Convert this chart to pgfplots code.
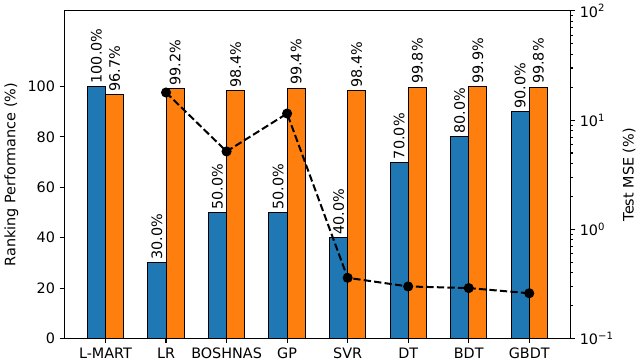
\documentclass[border=0pt]{standalone}
\usepackage{fontspec}
\setmainfont{DejaVu Sans}
\usepackage{pgfplots}
\pgfplotsset{compat=1.18}
\definecolor{mplblue}{HTML}{1F77B4}
\definecolor{mplorange}{HTML}{FF7F0E}

\pgfplotsset{
  common/.style={
    scale only axis, width=380pt, height=246pt,
    xmin=-0.68, xmax=7.68,
    enlargelimits=false,
    tick align=outside,
    major tick length=3.5pt, minor tick length=2pt,
    every tick/.style={black, line width=0.8pt},
    axis line style={line width=0.8pt},
    tick label style={font=\fontsize{10.8}{13}\selectfont},
    label style={font=\fontsize{10.8}{13}\selectfont},
    /pgf/number format/assume math mode=true,
  },
  barlab/.style={
    nodes near coords={\pgfmathprintnumber[fixed,fixed zerofill,precision=1]{\pgfplotspointmeta}\%},
    every node near coord/.append style={rotate=90, anchor=west, inner sep=2pt,
      font=\fontsize{10.8}{13}\selectfont, black},
  },
}

\begin{document}
\begin{tikzpicture}
  % bars: ranking performance (left axis)
  \begin{axis}[
      common,
      ymin=0, ymax=130,
      xtick={0,...,7},
      xticklabels={L-MART,LR,BOSHNAS,GP,SVR,DT,BDT,GBDT},
      xtick pos=bottom,
      ytick={0,20,40,60,80,100},
      ytick pos=left,
      ylabel={Ranking Performance (\%)},
    ]
    % bars placed at category -/+ 0.15
    \addplot[ybar, bar width=0.3, bar shift=0, fill=mplblue, draw=black, line width=0.7pt, barlab]
      coordinates {(-0.15,100) (0.85,30) (1.85,50) (2.85,50) (3.85,40) (4.85,70) (5.85,80) (6.85,90)};
    \addplot[ybar, bar width=0.3, bar shift=0, fill=mplorange, draw=black, line width=0.7pt, barlab]
      coordinates {(0.15,96.7) (1.15,99.2) (2.15,98.4) (3.15,99.4) (4.15,98.4) (5.15,99.8) (6.15,99.9) (7.15,99.8)};
  \end{axis}
  % line: test MSE (right axis, log)
  \begin{axis}[
      common,
      ymode=log, ymin=0.1, ymax=100,
      axis x line=none,
      ytick pos=right, yticklabel pos=right,
      ytick={0.1,1,10,100},
      yticklabels={10\textsuperscript{−1},10\textsuperscript{0},10\textsuperscript{1},10\textsuperscript{2}},
      ylabel={Test MSE (\%)},
    ]
    \addplot[black, line width=1.5pt, dash pattern=on 5.5pt off 2.4pt,
      mark=*, mark size=3pt, mark options={solid}]
      coordinates {(1,17.9) (2,5.17) (3,11.5) (4,0.36) (5,0.30) (6,0.29) (7,0.26)};
  \end{axis}
\end{tikzpicture}
\end{document}
